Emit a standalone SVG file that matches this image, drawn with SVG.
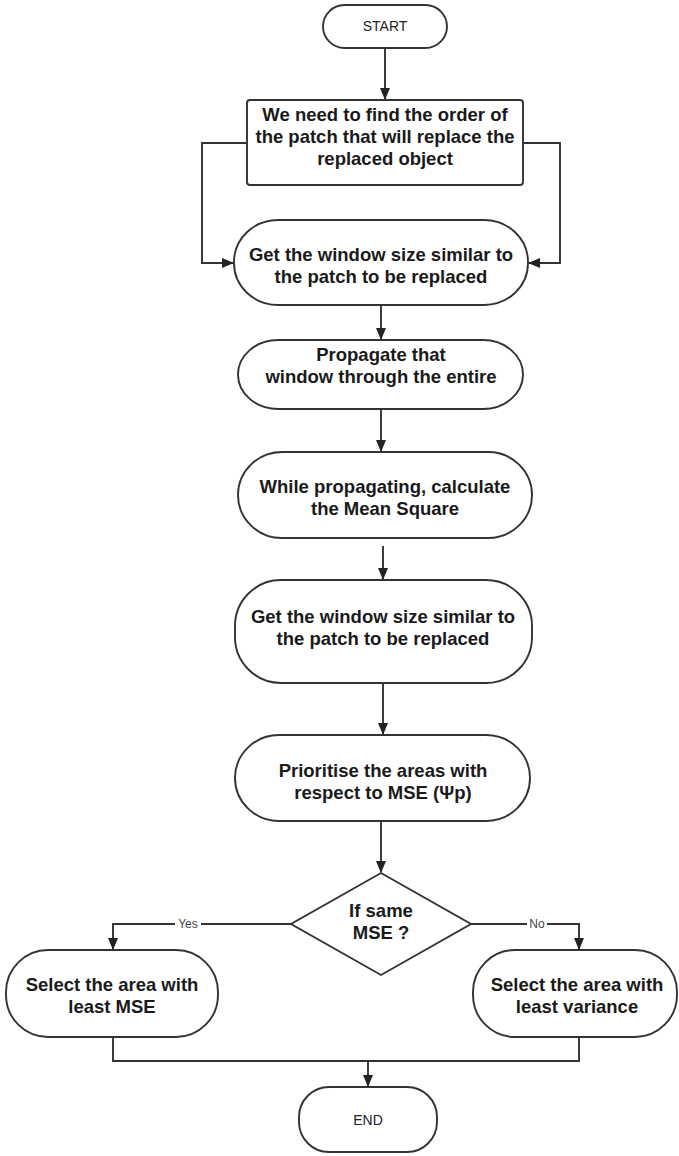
<svg xmlns="http://www.w3.org/2000/svg" width="679" height="1156" viewBox="0 0 679 1156">
  <defs>
    <marker id="arrow" viewBox="0 0 12 12" refX="11" refY="6" markerWidth="12" markerHeight="12" markerUnits="userSpaceOnUse" orient="auto">
      <path d="M0,1 L12,6 L0,11 Z" fill="#222"/>
    </marker>
    <style>
      .shape { fill: #ffffff; stroke: #333; stroke-width: 1.9; }
      .link { fill: none; stroke: #333; stroke-width: 1.9; }
      .label { font-family: "Liberation Sans", Arial, sans-serif; font-size: 18.5px; font-weight: bold; fill: #1a1a1a; text-anchor: middle; }
      .term { font-family: "Liberation Sans", Arial, sans-serif; font-size: 14px; fill: #222; text-anchor: middle; }
      .branch { font-family: "Liberation Sans", Arial, sans-serif; font-size: 12px; fill: #444; text-anchor: middle; }
    </style>
  </defs>
  <rect width="679" height="1156" fill="#ffffff"/>

  <!-- connectors -->
  <g id="connectors">
    <path class="link" d="M385,48 V99" marker-end="url(#arrow)"/>
    <path class="link" d="M247,143 H202 V263 H233" marker-end="url(#arrow)"/>
    <path class="link" d="M523,143 H560 V263 H529" marker-end="url(#arrow)"/>
    <path class="link" d="M381,305 V339" marker-end="url(#arrow)"/>
    <path class="link" d="M381,409 V451" marker-end="url(#arrow)"/>
    <path class="link" d="M383,546 V579" marker-end="url(#arrow)"/>
    <path class="link" d="M383,683 V734" marker-end="url(#arrow)"/>
    <path class="link" d="M381,821 V872" marker-end="url(#arrow)"/>
    <path class="link" d="M291,924 H113 V949" marker-end="url(#arrow)"/>
    <path class="link" d="M471,924 H579 V949" marker-end="url(#arrow)"/>
    <path class="link" d="M113,1037 V1061 H579 V1037"/>
    <path class="link" d="M368,1061 V1086" marker-end="url(#arrow)"/>
    <rect x="175" y="916" width="26" height="15" fill="#ffffff"/>
    <text class="branch" x="188" y="928">Yes</text>
    <rect x="527" y="916" width="20" height="15" fill="#ffffff"/>
    <text class="branch" x="537" y="928">No</text>
  </g>

  <g id="start">
    <rect class="shape" x="323" y="5" width="124" height="43" rx="21.5" ry="21.5"/>
    <text class="term" x="385" y="31">START</text>
  </g>

  <g id="find-order">
    <rect class="shape" x="247" y="100" width="276" height="85" rx="3" ry="3"/>
    <text class="label" x="385" y="121">We need to find the order of</text>
    <text class="label" x="385" y="143">the patch that will replace the</text>
    <text class="label" x="385" y="165">replaced object</text>
  </g>

  <g id="window-size-1">
    <rect class="shape" x="234" y="220" width="294" height="85" rx="44" ry="42"/>
    <text class="label" x="381" y="261">Get the window size similar to</text>
    <text class="label" x="381" y="283">the patch to be replaced</text>
  </g>

  <g id="propagate">
    <rect class="shape" x="238" y="340" width="285" height="69" rx="40" ry="34.5"/>
    <text class="label" x="381" y="361">Propagate that</text>
    <text class="label" x="381" y="383">window through the entire</text>
  </g>

  <g id="mean-square">
    <rect class="shape" x="238" y="452" width="294" height="86" rx="44" ry="43"/>
    <text class="label" x="385" y="493">While propagating, calculate</text>
    <text class="label" x="385" y="515">the Mean Square</text>
  </g>

  <g id="window-size-2">
    <rect class="shape" x="235" y="580" width="297" height="103" rx="46" ry="46"/>
    <text class="label" x="383" y="623">Get the window size similar to</text>
    <text class="label" x="383" y="645">the patch to be replaced</text>
  </g>

  <g id="prioritise">
    <rect class="shape" x="235" y="735" width="295" height="86" rx="44" ry="43"/>
    <text class="label" x="383" y="777">Prioritise the areas with</text>
    <text class="label" x="383" y="799">respect to MSE (Ψp)</text>
  </g>

  <g id="same-mse">
    <polygon class="shape" points="381,873 471,924 381,975 291,924"/>
    <text class="label" x="381" y="917">If same</text>
    <text class="label" x="381" y="939">MSE ?</text>
  </g>

  <g id="least-mse">
    <rect class="shape" x="6" y="950" width="212" height="87" rx="42" ry="42"/>
    <text class="label" x="112" y="991">Select the area with</text>
    <text class="label" x="112" y="1013">least MSE</text>
  </g>

  <g id="least-variance">
    <rect class="shape" x="473" y="950" width="204" height="87" rx="42" ry="42"/>
    <text class="label" x="577" y="991">Select the area with</text>
    <text class="label" x="577" y="1013">least variance</text>
  </g>

  <g id="end">
    <rect class="shape" x="299" y="1087" width="138" height="65" rx="30" ry="30"/>
    <text class="term" x="368" y="1125">END</text>
  </g>
</svg>
